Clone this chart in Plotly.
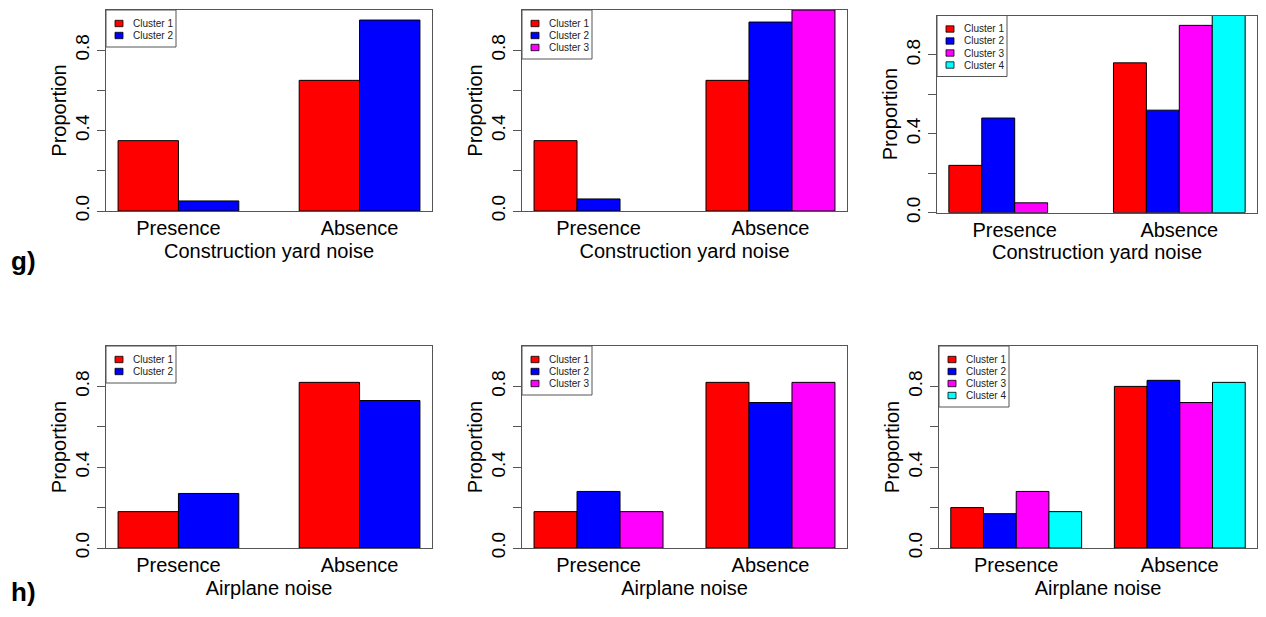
import plotly.graph_objects as go

# the page has an 8px body margin; the figure is sized so the page fits the window exactly
OFF = 8
W, H = 1266 - 2 * OFF, 617 - 2 * OFF

categories = ["Presence", "Absence"]
cluster_names = ["Cluster 1", "Cluster 2", "Cluster 3", "Cluster 4"]
cluster_colors = ["#FF0000", "#0000FF", "#FF00FF", "#00FFFF"]

y_tickvals = [0.0, 0.2, 0.4, 0.6, 0.8]
y_ticktext = ["0.0", "", "0.4", "", "0.8"]

# Construction yard noise: proportion per cluster [Presence, Absence]
construction_k2 = [[0.35, 0.65], [0.05, 0.95]]
construction_k3 = [[0.35, 0.65], [0.06, 0.94], [0.00, 1.00]]
construction_k4 = [[0.24, 0.76], [0.48, 0.52], [0.05, 0.95], [0.00, 1.00]]

# Airplane noise: proportion per cluster [Presence, Absence]
airplane_k2 = [[0.18, 0.82], [0.27, 0.73]]
airplane_k3 = [[0.18, 0.82], [0.28, 0.72], [0.18, 0.82]]
airplane_k4 = [[0.20, 0.80], [0.17, 0.83], [0.28, 0.72], [0.18, 0.82]]

x_titles = ["Construction yard noise", "Airplane noise"]
panel_letters = ["g)", "h)"]

# panel boxes in window pixels: left, right, top, bottom
panels = [
    (construction_k2, x_titles[0], (106, 432, 10, 211)),
    (construction_k3, x_titles[0], (522, 847, 10, 211)),
    (construction_k4, x_titles[0], (937, 1257, 15.5, 212.7)),
    (airplane_k2, x_titles[1], (106, 432, 346, 548)),
    (airplane_k3, x_titles[1], (522, 847, 346, 548)),
    (airplane_k4, x_titles[1], (939, 1257, 346, 548)),
]
letter_pos = [(9, 261), (9, 592)]

FONT = "Liberation Sans, Arial, sans-serif"
FRAME = "#555555"


def px_x(v):
    return (v - OFF) / W


def px_y(v):
    return 1 - (v - OFF) / H


fig = go.Figure()
shapes = []
annotations = []

for p, (data, xtitle, (l, r, t, b)) in enumerate(panels):
    n = len(data)
    ax = "" if p == 0 else str(p + 1)
    xa, ya = "x" + ax, "y" + ax
    w = 1.0 / (n + 1)
    for i, vals in enumerate(data):
        fig.add_trace(go.Bar(
            x=categories, y=vals, name=cluster_names[i],
            width=w, offset=-n * w / 2 + i * w,
            marker=dict(color=cluster_colors[i],
                        line=dict(color="#000000", width=[1 if v > 0 else 0 for v in vals])),
            xaxis=xa, yaxis=ya, showlegend=False,
        ))
    left_edge = -n * w / 2
    pad = 0.04 * (2 * n + 1) * w
    xrange = [left_edge - pad, 1 - left_edge + pad]
    fig.update_layout(**{
        "xaxis" + ax: dict(
            domain=[px_x(l), px_x(r)], range=xrange, anchor=ya,
            showline=True, mirror=True, linecolor=FRAME, linewidth=1,
            ticks="outside", ticklen=1, tickcolor="rgba(0,0,0,0)", ticklabelstandoff=-2,
            tickfont=dict(size=20, color="#000000"),
            title=dict(text=xtitle, font=dict(size=20, color="#000000"), standoff=5),
            showgrid=False, zeroline=False, fixedrange=True,
        ),
        "yaxis" + ax: dict(
            domain=[px_y(b), px_y(t)], range=[0, 1], anchor=xa,
            tickvals=y_tickvals, ticktext=y_ticktext, tickangle=-90,
            showline=True, mirror=True, linecolor=FRAME, linewidth=1,
            ticks="outside", ticklen=8, tickcolor=FRAME, tickwidth=1,
            tickfont=dict(size=19, color="#000000"),
            title=dict(text="Proportion", font=dict(size=20, color="#000000"), standoff=0),
            showgrid=False, zeroline=False, fixedrange=True,
        ),
    })
    # legend box (top-left inside the plot box)
    lw = 70
    lh = 13 + 12 * n
    shapes.append(dict(type="rect", xref="paper", yref="paper",
                       x0=px_x(l), x1=px_x(l + lw), y0=px_y(t), y1=px_y(t + lh),
                       line=dict(color=FRAME, width=1), fillcolor="white", layer="above"))
    for i in range(n):
        cy = t + 13.5 + 12 * i
        shapes.append(dict(type="rect", xref="paper", yref="paper",
                           x0=px_x(l + 9), x1=px_x(l + 17),
                           y0=px_y(cy - 3.2), y1=px_y(cy + 3.2),
                           line=dict(color="#000000", width=0.8),
                           fillcolor=cluster_colors[i], layer="above"))
        annotations.append(dict(text=cluster_names[i], xref="paper", yref="paper",
                                x=px_x(l + 25), y=px_y(cy), xanchor="left", yanchor="middle",
                                showarrow=False, font=dict(size=10, family=FONT, color="#222222")))

for letter, (lx, ly) in zip(panel_letters, letter_pos):
    annotations.append(dict(text="<b>" + letter + "</b>", xref="paper", yref="paper",
                            x=px_x(lx), y=px_y(ly), xanchor="left", yanchor="middle",
                            showarrow=False, font=dict(size=26, family=FONT, color="#000000")))

fig.update_layout(
    width=W, height=H, margin=dict(l=0, r=0, t=0, b=0, autoexpand=False),
    paper_bgcolor="white", plot_bgcolor="white",
    barmode="overlay", showlegend=False,
    font=dict(family=FONT, color="#000000"),
    shapes=shapes, annotations=annotations,
)

fig.write_html("out.html")
